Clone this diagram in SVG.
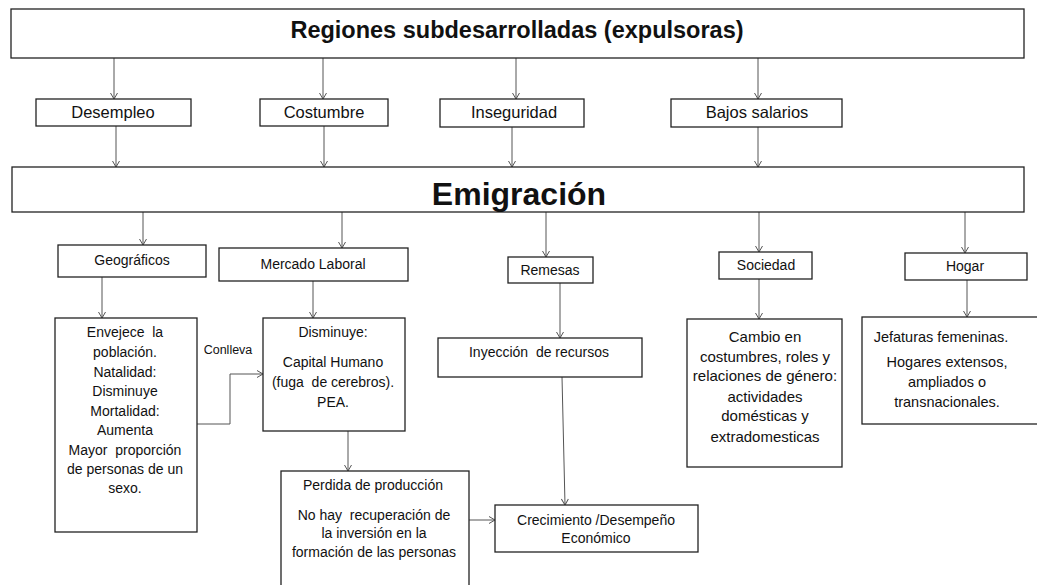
<svg xmlns="http://www.w3.org/2000/svg" width="1037" height="585" viewBox="0 0 1037 585">
<style>
.box{fill:#fff;stroke:#222;stroke-width:1.3}
.t{font-family:"Liberation Sans",Arial,sans-serif;fill:#111;text-anchor:middle}
.c{fill:none;stroke:#555;stroke-width:1}
</style>
<defs>
<marker id="a" viewBox="-8 -5 10 10" refX="0" refY="0" markerWidth="10" markerHeight="10" markerUnits="userSpaceOnUse" orient="auto">
<path d="M-6,-3.5 L0,0 L-6,3.5" fill="none" stroke="#555" stroke-width="1"/>
</marker>
</defs>
<rect width="1037" height="585" fill="#fff"/>
<g id="connectors">
<path class="c" marker-end="url(#a)" d="M114,58 V99"/>
<path class="c" marker-end="url(#a)" d="M323,58 V99"/>
<path class="c" marker-end="url(#a)" d="M516,58 V99"/>
<path class="c" marker-end="url(#a)" d="M758,58 V99"/>
<path class="c" marker-end="url(#a)" d="M116,126 V167"/>
<path class="c" marker-end="url(#a)" d="M324,126 V167"/>
<path class="c" marker-end="url(#a)" d="M512,127 V167"/>
<path class="c" marker-end="url(#a)" d="M758,127 V167"/>
<path class="c" marker-end="url(#a)" d="M143,212 V245"/>
<path class="c" marker-end="url(#a)" d="M342,212 V248"/>
<path class="c" marker-end="url(#a)" d="M546,212 V257"/>
<path class="c" marker-end="url(#a)" d="M759,212 V252"/>
<path class="c" marker-end="url(#a)" d="M965,212 V253"/>
<path class="c" marker-end="url(#a)" d="M102,277 V318"/>
<path class="c" marker-end="url(#a)" d="M313,281 V318"/>
<path class="c" marker-end="url(#a)" d="M197,424 H230 V374 H263"/>
<path class="c" marker-end="url(#a)" d="M348,431 V471"/>
<path class="c" marker-end="url(#a)" d="M560,283 V338"/>
<path class="c" marker-end="url(#a)" d="M562,377 L565,505"/>
<path class="c" marker-end="url(#a)" d="M469,520 H495"/>
<path class="c" marker-end="url(#a)" d="M759,279 V319"/>
<path class="c" marker-end="url(#a)" d="M967,280 V317"/>
<text class="t" x="228" y="354" font-size="12.5">Conlleva</text>
</g>
<g id="regiones">
<rect class="box" x="11" y="9" width="1013" height="49"/>
<text class="t" x="517" y="38" font-size="23.5" font-weight="bold">Regiones subdesarrolladas (expulsoras)</text>
</g>
<g id="desempleo">
<rect class="box" x="36" y="99" width="155" height="27"/>
<text class="t" x="113" y="118" font-size="16.5">Desempleo</text>
</g>
<g id="costumbre">
<rect class="box" x="260" y="99" width="128" height="27"/>
<text class="t" x="324" y="118" font-size="16.5">Costumbre</text>
</g>
<g id="inseguridad">
<rect class="box" x="440" y="99" width="144" height="28"/>
<text class="t" x="514" y="118" font-size="16.5">Inseguridad</text>
</g>
<g id="bajos">
<rect class="box" x="671" y="99" width="171" height="28"/>
<text class="t" x="757" y="118" font-size="16.5">Bajos salarios</text>
</g>
<g id="emigracion">
<rect class="box" x="12" y="167" width="1012" height="45"/>
<text class="t" x="519" y="205" font-size="32" font-weight="bold">Emigración</text>
</g>
<g id="geograficos">
<rect class="box" x="58" y="245" width="148" height="32"/>
<text class="t" x="132" y="265" font-size="14">Geográficos</text>
</g>
<g id="mercado">
<rect class="box" x="219" y="248" width="189" height="33"/>
<text class="t" x="313" y="269" font-size="14">Mercado Laboral</text>
</g>
<g id="remesas">
<rect class="box" x="508" y="257" width="85" height="26"/>
<text class="t" x="550" y="275" font-size="14">Remesas</text>
</g>
<g id="sociedad">
<rect class="box" x="719" y="252" width="93" height="27"/>
<text class="t" x="766" y="270" font-size="14">Sociedad</text>
</g>
<g id="hogar">
<rect class="box" x="905" y="253" width="122" height="27"/>
<text class="t" x="965" y="271" font-size="14">Hogar</text>
</g>
<g id="envejece">
<rect class="box" x="55" y="318" width="142" height="214"/>
<text class="t" font-size="14" xml:space="preserve"><tspan x="125" y="337">Envejece  la</tspan><tspan x="125" y="357">población.</tspan><tspan x="125" y="377">Natalidad:</tspan><tspan x="125" y="396">Disminuye</tspan><tspan x="125" y="416">Mortalidad:</tspan><tspan x="125" y="435">Aumenta</tspan><tspan x="125" y="455">Mayor  proporción</tspan><tspan x="125" y="474">de personas de un</tspan><tspan x="125" y="493">sexo.</tspan></text>
</g>
<g id="disminuye">
<rect class="box" x="263" y="318" width="142" height="113"/>
<text class="t" font-size="14" xml:space="preserve"><tspan x="333" y="337">Disminuye:</tspan><tspan x="333" y="367">Capital Humano</tspan><tspan x="333" y="387">(fuga  de cerebros).</tspan><tspan x="333" y="407">PEA.</tspan></text>
</g>
<g id="inyeccion">
<rect class="box" x="438" y="338" width="204" height="39"/>
<text class="t" x="539" y="357" font-size="14" xml:space="preserve">Inyección  de recursos</text>
</g>
<g id="cambio">
<rect class="box" x="687" y="319" width="155" height="148"/>
<text class="t" font-size="15"><tspan x="765" y="342">Cambio en</tspan><tspan x="765" y="362">costumbres, roles y</tspan><tspan x="765" y="381">relaciones de género:</tspan><tspan x="765" y="402">actividades</tspan><tspan x="765" y="421">domésticas y</tspan><tspan x="765" y="442">extradomesticas</tspan></text>
</g>
<g id="jefaturas">
<rect class="box" x="862" y="317" width="180" height="107"/>
<text class="t" font-size="14.5"><tspan x="941" y="342">Jefaturas femeninas.</tspan><tspan x="947" y="367">Hogares extensos,</tspan><tspan x="947" y="387">ampliados o</tspan><tspan x="947" y="407">transnacionales.</tspan></text>
</g>
<g id="perdida">
<rect class="box" x="281" y="471" width="188" height="120"/>
<text class="t" font-size="14" xml:space="preserve"><tspan x="373" y="490">Perdida de producción</tspan><tspan x="374" y="520">No hay  recuperación de</tspan><tspan x="374" y="538">la inversión en la</tspan><tspan x="374" y="557">formación de las personas</tspan></text>
</g>
<g id="crecimiento">
<rect class="box" x="495" y="505" width="203" height="47"/>
<text class="t" font-size="14"><tspan x="596" y="525">Crecimiento /Desempeño</tspan><tspan x="596" y="543">Económico</tspan></text>
</g>
</svg>
